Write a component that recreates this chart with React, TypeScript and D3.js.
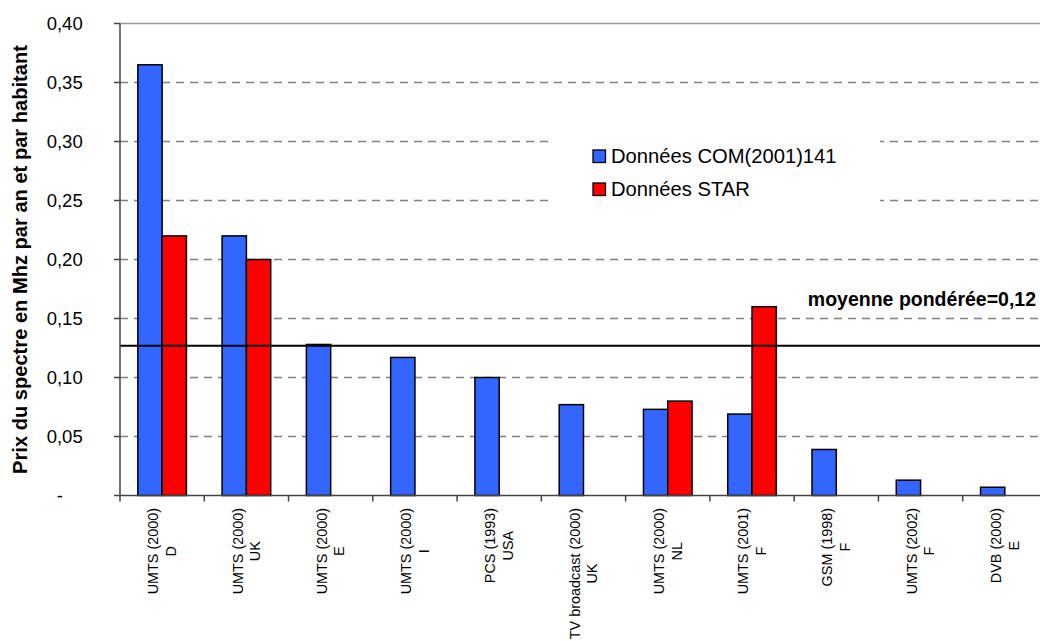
import React, { useMemo } from 'react';
import * as d3 from 'd3';

// Licence categories: technology (year) on the first line, country on the second
const techYear = [
  'UMTS (2000)', 'UMTS (2000)', 'UMTS (2000)', 'UMTS (2000)', 'PCS (1993)',
  'TV broadcast (2000)', 'UMTS (2000)', 'UMTS (2001)', 'GSM (1998)', 'UMTS (2002)', 'DVB (2000)',
];
const country = ['D', 'UK', 'E', 'I', 'USA', 'UK', 'NL', 'F', 'F', 'F', 'E'];

// Price of spectrum per MHz, per year and per inhabitant
const comValues = [0.365, 0.22, 0.128, 0.117, 0.1, 0.077, 0.073, 0.069, 0.039, 0.013, 0.007];
const starValues: (number | null)[] = [0.22, 0.2, null, null, null, null, 0.08, 0.16, null, null, null];

const seriesNames = ['Données COM(2001)141', 'Données STAR'];
const seriesColors = ['#3366FF', '#FF0000'];

const yTicks = [0, 0.05, 0.1, 0.15, 0.2, 0.25, 0.3, 0.35, 0.4];
const weightedMean = 0.127;

const yTitle = 'Prix du spectre en Mhz par an et par habitant';
const meanPrefix = 'moyenne pondérée=';

const FONT = 'Arial, "Liberation Sans", Helvetica, sans-serif';
const LABEL_SIZE = 14.4;

const fmtTick = (v: number) => (v === 0 ? '-' : d3.format('.2f')(v).replace('.', ','));
const fmtTrunc = (v: number) => (Math.floor(v * 100) / 100).toFixed(2).replace('.', ',');

export default function App() {
  const W = 1040;
  const H = 641;
  const left = 120;
  const top = 23.5;
  const bottom = 495.5;
  const step = 84.27;

  const categories = techYear.map((t, i) => `${t} ${country[i]}`);
  const x = d3
    .scaleBand<string>()
    .domain(categories)
    .range([left, left + step * categories.length]);
  const right = left + step * categories.length;
  const y = d3.scaleLinear().domain([0, 0.4]).range([bottom, top]);
  const inner = d3
    .scaleBand<string>()
    .domain(['com', 'star'])
    .range([0, x.bandwidth()])
    .paddingInner(0)
    .paddingOuter(0.734);

  const series = [
    { key: 'com', values: comValues as (number | null)[] },
    { key: 'star', values: starValues },
  ];

  // width of the longest line of each two-line category label
  const labelWidths = useMemo(() => {
    const ctx = document.createElement('canvas').getContext('2d');
    if (!ctx) return techYear.map(() => 80);
    ctx.font = `${LABEL_SIZE}px "Liberation Sans", Arial, sans-serif`;
    return techYear.map((t, i) =>
      Math.max(ctx.measureText(t).width, ctx.measureText(country[i]).width)
    );
  }, []);

  const meanY = y(weightedMean);

  return (
    <svg
      width={W}
      height={H}
      style={{ position: 'absolute', left: 0, top: 0, display: 'block', background: '#fff' }}
      fontFamily={FONT}
    >
      <rect x={0} y={0} width={W} height={H} fill="#fff" />

      {/* horizontal gridlines */}
      {yTicks
        .filter((t) => t > 0 && t < 0.4)
        .map((t) => (
          <line
            key={`g${t}`}
            x1={left}
            x2={right}
            y1={y(t)}
            y2={y(t)}
            stroke="#808080"
            strokeWidth={1.5}
            strokeDasharray="8,6"
            strokeDashoffset={-14}
          />
        ))}
      {/* plot frame top */}
      <line x1={left} x2={right} y1={top} y2={top} stroke="#999" strokeWidth={1.5} />

      {/* legend background */}
      <rect x={552} y={112} width={328} height={118} fill="#fff" />

      {/* bars */}
      {series.map((s, si) =>
        s.values.map((v, i) =>
          v == null ? null : (
            <rect
              key={`${s.key}${i}`}
              x={(x(categories[i]) as number) + (inner(s.key) as number)}
              y={y(v)}
              width={inner.bandwidth()}
              height={bottom - y(v)}
              fill={seriesColors[si]}
              stroke="#000"
              strokeWidth={1.5}
            />
          )
        )
      )}

      {/* weighted mean */}
      <line x1={left} x2={right} y1={meanY} y2={meanY} stroke="#000" strokeWidth={2} />
      <text
        x={1036}
        y={meanY - 40}
        textAnchor="end"
        fontSize={19.5}
        fontWeight="bold"
        fill="#000"
      >
        {meanPrefix + fmtTrunc(weightedMean)}
      </text>

      {/* y axis */}
      <line x1={left} x2={left} y1={top} y2={bottom} stroke="#444" strokeWidth={1.5} />
      {yTicks.map((t) => (
        <g key={`t${t}`}>
          <line x1={left - 6} x2={left} y1={y(t)} y2={y(t)} stroke="#444" strokeWidth={1.5} />
          <text
            x={t === 0 ? 63 : 82.7}
            y={y(t)}
            dy="0.36em"
            textAnchor="end"
            fontSize={18.5}
            fill="#000"
          >
            {fmtTick(t)}
          </text>
        </g>
      ))}

      {/* x axis */}
      <line x1={left} x2={right} y1={bottom} y2={bottom} stroke="#444" strokeWidth={1.5} />
      {d3.range(categories.length + 1).map((i) => (
        <line
          key={`xt${i}`}
          x1={left + step * i}
          x2={left + step * i}
          y1={bottom}
          y2={bottom + 6}
          stroke="#444"
          strokeWidth={1.5}
        />
      ))}
      {categories.map((c, i) => {
        const cx = (x(c) as number) + x.bandwidth() / 2;
        const mid = -labelWidths[i] / 2;
        return (
          <text
            key={`xl${i}`}
            transform={`translate(${cx},508) rotate(-90)`}
            textAnchor="middle"
            fontSize={LABEL_SIZE}
            fill="#000"
          >
            <tspan x={mid} y={-3.8}>
              {techYear[i]}
            </tspan>
            <tspan x={mid} y={13.8}>
              {country[i]}
            </tspan>
          </text>
        );
      })}

      {/* y title */}
      <text
        transform="translate(27,259.5) rotate(-90)"
        textAnchor="middle"
        fontSize={20.1}
        fontWeight="bold"
        fill="#000"
      >
        {yTitle}
      </text>

      {/* legend */}
      {seriesNames.map((n, i) => (
        <g key={`lg${i}`} transform={`translate(593,${150 + i * 33})`}>
          <rect x={0} y={0} width={12.5} height={12.5} fill={seriesColors[i]} stroke="#000" strokeWidth={1.3} />
          <text x={18} y={12.8} fontSize={20.2} fill="#000">
            {n}
          </text>
        </g>
      ))}
    </svg>
  );
}
